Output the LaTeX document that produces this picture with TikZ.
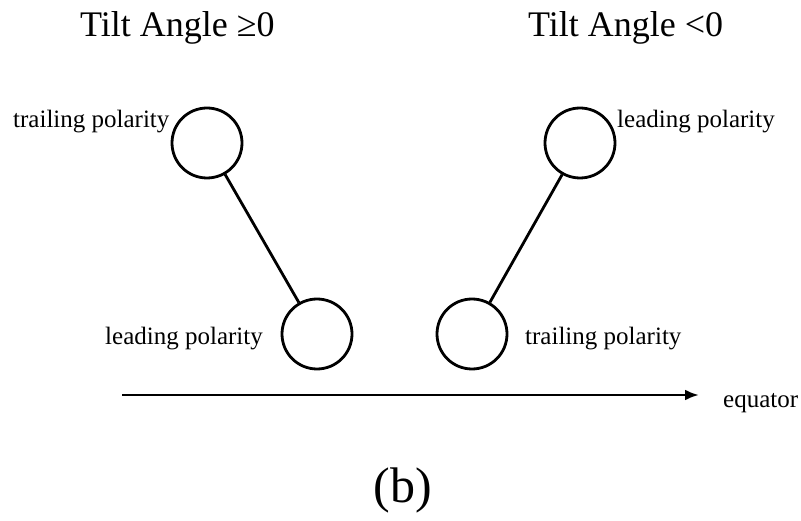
\documentclass[tikz,border=0pt]{standalone}
\usepackage{fontspec}
\setmainfont{Liberation Serif}
\usetikzlibrary{arrows.meta}
\begin{document}
\begin{tikzpicture}[x=1pt,y=-1pt,
  spot/.style={circle,draw,line width=2.8pt,minimum size=70pt,inner sep=0pt},
  lab/.style={anchor=base west,inner sep=0pt,font=\fontsize{25}{28}\selectfont},
  ttl/.style={anchor=base west,inner sep=0pt,font=\fontsize{36}{40}\selectfont},
  link/.style={line width=2.8pt}]
\useasboundingbox (0,0) rectangle (801,521);
\node[ttl] (t1) at (80,37) {Tilt Angle ≥0};
\node[ttl] (t2) at (528,37) {Tilt Angle <0};
\node[spot] (tl) at (207,143) {};
\node[spot] (bl) at (317,334) {};
\node[spot] (tr) at (580,143) {};
\node[spot] (br) at (472,334) {};
\draw[link] (tl) -- (bl);
\draw[link] (tr) -- (br);
\node[lab] (l1) at (13,128) {trailing polarity};
\node[lab] (l2) at (105,345) {leading polarity};
\node[lab] (l3) at (617,128) {leading polarity};
\node[lab] (l4) at (525,345) {trailing polarity};
\coordinate (eqs) at (122,395);
\coordinate (eqe) at (699,395);
\draw[link,-{Latex[length=14pt,width=11pt]}] (eqs) -- (eqe);
\node[lab] (eq) at (723,407) {equator};
\node[inner sep=0pt,font=\fontsize{50}{56}\selectfont] (b) at (403,490) {(b)};
\end{tikzpicture}
\end{document}
